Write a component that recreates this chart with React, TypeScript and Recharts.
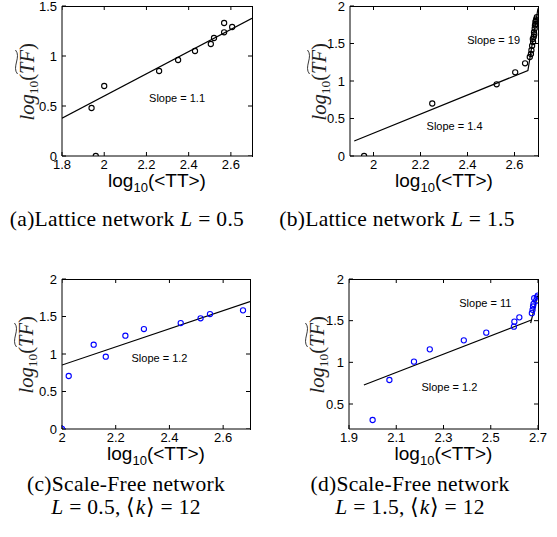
import { ScatterChart, Scatter, XAxis, YAxis, ReferenceDot } from 'recharts'

const SANS = '"Liberation Sans", Arial, Helvetica, sans-serif'
const SERIF = '"Liberation Serif", "Times New Roman", serif'

// (a) lattice L = 0.5
const xTicksA = [1.8, 2, 2.2, 2.4, 2.6]
const yTicksA = [0, 0.5, 1, 1.5]
const xA = [1.96, 1.94, 2.0, 2.26, 2.35, 2.43, 2.505, 2.52, 2.568, 2.568, 2.606]
const yA = [0, 0.48, 0.7, 0.85, 0.96, 1.05, 1.12, 1.18, 1.237, 1.33, 1.29]
const fitA = [[1.8, 0.377], [2.7, 1.377]]
const notesA = [{ x: 2.345, y: 0.577, text: 'Slope = 1.1' }]

// (b) lattice L = 1.5
const xTicksB = [2, 2.2, 2.4, 2.6]
const yTicksB = [0, 0.5, 1, 1.5, 2]
const xB = [1.96, 2.25, 2.524, 2.603, 2.645, 2.665, 2.67, 2.672, 2.675, 2.678, 2.679, 2.682, 2.683, 2.684, 2.686, 2.687, 2.689, 2.69, 2.692, 2.693, 2.695]
const yB = [0, 0.7, 0.956, 1.116, 1.236, 1.32, 1.36, 1.41, 1.47, 1.56, 1.52, 1.59, 1.65, 1.62, 1.7, 1.74, 1.79, 1.76, 1.82, 1.8, 1.85]
const fitB = [[1.918, 0.2], [2.657, 1.14], [2.7, 1.97]]
const notesB = [
  { x: 2.511, y: 1.552, text: 'Slope = 19' },
  { x: 2.345, y: 0.396, text: 'Slope = 1.4' },
]

// (c) scale-free L = 0.5
const xTicksC = [2, 2.2, 2.4, 2.6]
const yTicksC = [0, 0.5, 1, 1.5, 2]
const xC = [2.0, 2.025, 2.118, 2.163, 2.236, 2.305, 2.442, 2.516, 2.551, 2.674]
const yC = [0, 0.707, 1.124, 0.964, 1.244, 1.333, 1.413, 1.476, 1.533, 1.582]
const fitC = [[2.0, 0.853], [2.7, 1.7]]
const notesC = [{ x: 2.363, y: 0.943, text: 'Slope = 1.2' }]

// (d) scale-free L = 1.5
const xTicksD = [1.9, 2.1, 2.3, 2.5, 2.7]
const yTicksD = [0.5, 1, 1.5, 2]
const xD = [2.0, 2.071, 2.175, 2.242, 2.386, 2.481, 2.598, 2.6, 2.621, 2.674, 2.677, 2.679, 2.681, 2.684, 2.692, 2.695, 2.699]
const yD = [0.308, 0.788, 1.008, 1.156, 1.264, 1.356, 1.428, 1.488, 1.54, 1.59, 1.63, 1.67, 1.7, 1.77, 1.74, 1.78, 1.8]
const fitD1 = [[1.963, 0.728], [2.672, 1.508]]
const fitD2 = [[2.669, 1.47], [2.698, 1.8]]
const notesD = [
  { x: 2.477, y: 1.716, text: 'Slope = 11' },
  { x: 2.325, y: 0.7, text: 'Slope = 1.2' },
]

const tickStyle = { fill: '#000', fontSize: 13, fontFamily: SANS }

function XLabel({ viewBox }: any) {
  if (!viewBox) return null
  const cx = viewBox.x + viewBox.width / 2
  const by = viewBox.y + 31
  return (
    <text x={cx} y={by} textAnchor="middle" fontFamily={SANS} fontSize={19} fill="#000">
      log<tspan fontSize={13} dy={5}>10</tspan>
      <tspan dy={-5}>(&lt;TT&gt;)</tspan>
    </text>
  )
}

function YLabel({ viewBox, baseX, plotTop, plotHeight }: any) {
  const bx = (viewBox ? viewBox.x : 0) + baseX
  const cy = plotTop + plotHeight / 2 + 1
  const start = bx - 38.5
  const tf = start + 46.5 + 12 // middle of "TF"
  return (
    <g transform={`rotate(-90 ${bx} ${cy})`} fill="#222">
      <text x={start} y={cy} fontFamily={SERIF} fontSize={20.5}>
        <tspan fontStyle="italic">log</tspan>
        <tspan fontSize={13.5} dy={4}>10</tspan>
        <tspan dy={-4}>(</tspan>
        <tspan fontStyle="italic">TF</tspan>)
      </text>
      <path
        d={`M${tf - 12},${cy - 16.5} C${tf - 5},${cy - 22.5} ${tf + 5},${cy - 12.5} ${tf + 12},${cy - 18.5}`}
        fill="none"
        stroke="#222"
        strokeWidth={0.9}
      />
    </g>
  )
}

const empty = () => <g />

// inward tick marks along the top and right edges (placed just inside the box)
const TopTick = (p: any) => <line x1={p.cx} y1={p.cy} x2={p.cx} y2={p.cy + 4} stroke="#000" strokeWidth={1} />
const RightTick = (p: any) => <line x1={p.cx} y1={p.cy} x2={p.cx - 4} y2={p.cy} stroke="#000" strokeWidth={1} />

function Panel({ left, top, yAxisWidth, rightGap, xDomain, xTicks, yDomain, yTicks, xs, ys, fits, notes, color, yLabelX }: any) {
  const points = xs.map((x: number, i: number) => ({ x, y: ys[i] }))
  const topTicks = xTicks.map((x: number) => ({ x, y: yDomain[1] }))
  const rightTicks = yTicks.map((y: number) => ({ x: xDomain[1], y }))
  const plotTop = 6
  const plotHeight = 150
  const plotWidth = 278 - rightGap - yAxisWidth
  return (
    <div style={{ position: 'absolute', left, top, width: 278, height: 210 }}>
      <ScatterChart width={278} height={210} margin={{ top: plotTop, right: rightGap, bottom: 0, left: 0 }}>
        <XAxis
          type="number"
          dataKey="x"
          domain={xDomain}
          ticks={xTicks}
          interval={0}
          allowDataOverflow
          height={54}
          stroke="#000"
          tickSize={-4}
          tickMargin={8}
          tick={tickStyle}
          label={<XLabel />}
        />
        <YAxis
          type="number"
          dataKey="y"
          domain={yDomain}
          ticks={yTicks}
          interval={0}
          allowDataOverflow
          width={yAxisWidth}
          stroke="#000"
          tickSize={-4}
          tickMargin={9}
          tick={tickStyle}
          label={<YLabel baseX={yLabelX} plotTop={plotTop} plotHeight={plotHeight} />}
        />
        {fits.map((f: number[][], i: number) => (
          <Scatter
            key={`fit-${i}`}
            data={f.map(([x, y]) => ({ x, y }))}
            line={{ stroke: '#000', strokeWidth: 1.2 }}
            shape={empty}
            isAnimationActive={false}
          />
        ))}
        <Scatter
          data={points}
          isAnimationActive={false}
          shape={(p: any) => (
            <circle cx={p.cx} cy={p.cy} r={2.6} fill="none" stroke={color} strokeWidth={1.1} />
          )}
        />
        <Scatter data={topTicks} shape={TopTick} isAnimationActive={false} />
        <Scatter data={rightTicks} shape={RightTick} isAnimationActive={false} />
        {notes.map((n: any, i: number) => (
          <ReferenceDot
            key={`note-${i}`}
            x={n.x}
            y={n.y}
            r={0}
            fill="none"
            stroke="none"
            label={{ value: n.text, position: 'center', fill: '#000', fontSize: 11, fontFamily: SANS }}
          />
        ))}
      </ScatterChart>
      <div
        style={{
          position: 'absolute',
          left: yAxisWidth - 0.5,
          top: plotTop - 0.5,
          width: plotWidth + 1,
          height: plotHeight + 1,
          boxSizing: 'border-box',
          borderTop: '1px solid #000',
          borderRight: '1px solid #000',
          pointerEvents: 'none',
        }}
      />
    </div>
  )
}

function Captions() {
  const cap = { fontFamily: SERIF, fontSize: 21.5, letterSpacing: 0.3, fill: '#000', textAnchor: 'middle' as const }
  return (
    <svg width={557} height={537} style={{ position: 'absolute', left: 0, top: 0, pointerEvents: 'none' }}>
      <text x={127} y={226} {...cap}>
        (a)Lattice network <tspan fontStyle="italic">L</tspan> = 0.5
      </text>
      <text x={397} y={226} {...cap}>
        (b)Lattice network <tspan fontStyle="italic">L</tspan> = 1.5
      </text>
      <text x={126} y={491} {...cap}>(c)Scale-Free network</text>
      <text x={126} y={514} {...cap}>
        <tspan fontStyle="italic">L</tspan> = 0.5, ⟨<tspan fontStyle="italic">k</tspan>⟩ = 12
      </text>
      <text x={410} y={491} {...cap}>(d)Scale-Free network</text>
      <text x={410} y={514} {...cap}>
        <tspan fontStyle="italic">L</tspan> = 1.5, ⟨<tspan fontStyle="italic">k</tspan>⟩ = 12
      </text>
    </svg>
  )
}

export default function App() {
  return (
    <div style={{ position: 'absolute', left: 0, top: 0, width: 557, height: 537, background: '#fff' }}>
      <Panel left={0} top={0} yAxisWidth={62} rightGap={26} xDomain={[1.8, 2.7]} xTicks={xTicksA}
        yDomain={[0, 1.5]} yTicks={yTicksA} xs={xA} ys={yA} fits={[fitA]} notes={notesA} color="#000" yLabelX={34} />
      <Panel left={278} top={0} yAxisWidth={72} rightGap={18} xDomain={[1.9, 2.7]} xTicks={xTicksB}
        yDomain={[0, 2]} yTicks={yTicksB} xs={xB} ys={yB} fits={[fitB]} notes={notesB} color="#000" yLabelX={48} />
      <Panel left={0} top={273} yAxisWidth={62} rightGap={28} xDomain={[2, 2.7]} xTicks={xTicksC}
        yDomain={[0, 2]} yTicks={yTicksC} xs={xC} ys={yC} fits={[fitC]} notes={notesC} color="#0000ff" yLabelX={33} />
      <Panel left={278} top={273} yAxisWidth={71} rightGap={18} xDomain={[1.9, 2.7]} xTicks={xTicksD}
        yDomain={[0.2, 2]} yTicks={yTicksD} xs={xD} ys={yD} fits={[fitD1, fitD2]} notes={notesD} color="#0000ff" yLabelX={46} />
      <Captions />
    </div>
  )
}
